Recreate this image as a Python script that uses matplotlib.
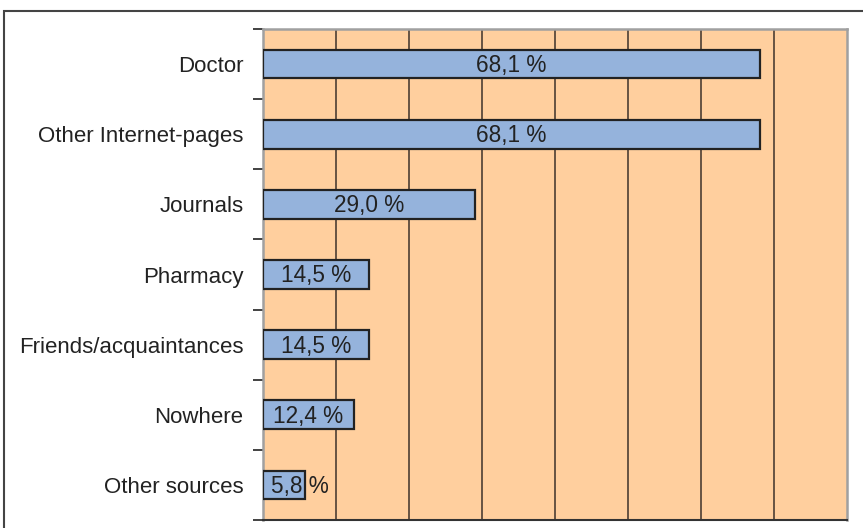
import matplotlib
matplotlib.use("Agg")
import matplotlib.pyplot as plt
from matplotlib.patches import Rectangle

categories = ["Doctor", "Other Internet-pages", "Journals", "Pharmacy",
              "Friends/acquaintances", "Nowhere", "Other sources"]
values = [68.1, 68.1, 29.0, 14.5, 14.5, 12.4, 5.8]
labels = ["68,1 %", "68,1 %", "29,0 %", "14,5 %", "14,5 %", "12,4 %", "5,8 %"]

plt.rcParams['font.family'] = ['Liberation Sans', 'DejaVu Sans']

fig = plt.figure(figsize=(8.63, 5.28), dpi=100)
W, H = 863, 528
ax = fig.add_axes([263 / W, 1 - 520 / H, (847 - 263) / W, (520 - 29) / H])
ax.set_facecolor('#FFCF9E')

n = len(categories)
ypos = list(range(n))
ax.barh(ypos, values, height=0.41, color='#95B3DC', edgecolor='#222222', linewidth=1.6, zorder=3)
for y, v, lab in zip(ypos, values, labels):
    if v < 10:
        ax.text(1.1, y + 0.02, lab, ha='left', va='center', fontsize=16.3, color='#222222', zorder=4)
    else:
        ax.text(v / 2, y + 0.02, lab, ha='center', va='center', fontsize=16.3, color='#222222', zorder=4)

ax.set_xlim(0, 80)
ax.set_ylim(n - 0.5, -0.5)
for g in range(10, 80, 10):
    ax.axvline(g, color='#5a4a3c', linewidth=1.3, zorder=1)

ax.set_xticks([])
ax.set_yticks([i - 0.5 for i in range(n + 1)])
ax.set_yticklabels([])
ax.set_yticks(ypos, minor=True)
ax.set_yticklabels(categories, minor=True, fontsize=16, color='#222222')
ax.tick_params(axis='y', which='minor', length=0, pad=14)
ax.tick_params(axis='y', which='major', length=7, width=1.2, color='#222222', direction='out')

for s in ['top', 'right', 'left']:
    ax.spines[s].set_color('#a0a0a0')
    ax.spines[s].set_linewidth(1.8)
ax.spines['bottom'].set_color('#333333')
ax.spines['bottom'].set_linewidth(1.5)

fig.patches.append(Rectangle((4 / W, -0.2), 1.2, 1.2 - 11 / H, transform=fig.transFigure,
                             fill=False, edgecolor='#444444', linewidth=1.5))

fig.savefig("out.png", dpi=100)
